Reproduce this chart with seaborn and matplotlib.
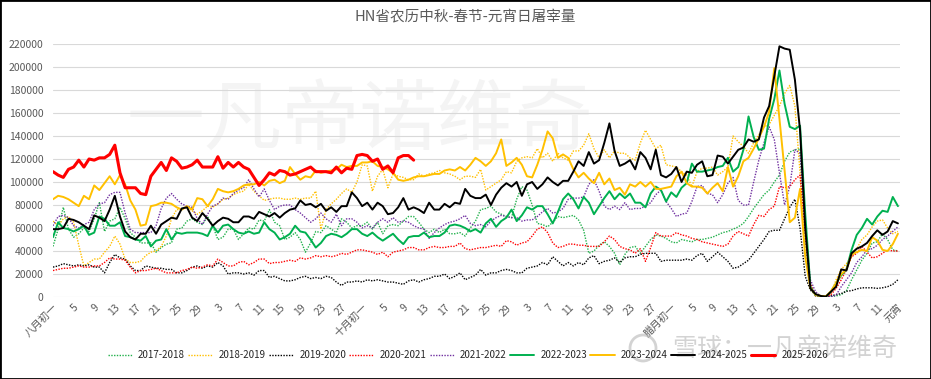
import matplotlib

matplotlib.use("Agg")
import matplotlib.pyplot as plt
import numpy as np
import seaborn as sns
from matplotlib.patches import Rectangle, Ellipse

# daily slaughter volume, in thousand head, one value per lunar day
# (八月初一 ... 元宵); 2025-2026 only runs to 十月十一
s2017 = [44, 59, 78, 59, 52, 55, 60, 57, 68, 82,
         57, 66, 68, 78, 68, 56, 52, 47, 47, 47,
         39, 43, 46, 47, 59, 60, 66, 68, 65, 63,
         70, 62, 50, 52, 59, 59, 50, 55, 60, 59,
         67, 66,
         76, 65, 62, 50, 52, 56, 50, 39, 47, 57,
         56, 62, 59, 56, 68, 65, 60, 62, 62, 65,
         59, 65, 55, 62, 63, 62, 66, 70, 70, 65,
         59, 56, 59, 56, 59, 55, 55, 56,
         53, 60, 66, 76, 77, 79, 74, 72, 70, 69,
         85, 96, 93, 80, 64, 63, 61, 65, 70, 69,
         70, 71, 67, 58, 38, 40, 45, 48, 44, 38,
         28, 37, 43, 44, 38, 44, 50, 54, 53, 51,
         48,
         47, 50, 49, 48, 50, 50, 51, 52, 54, 56,
         57, 59, 61, 64, 70, 77, 83, 89, 93, 100,
         106, 118, 126, 128, 129, 50, 9, 1, 0.3, 0.3,
         0.3, 1, 2, 5.5, 15, 23.5, 32, 38, 47, 48,
         55, 50, 41, 40]

s2018 = [66, 62, 68, 70, 65, 45, 27, 30, 33, 33,
         39, 44, 53, 46, 33, 30, 30, 31, 36, 39,
         40, 44, 53, 68, 76, 76, 78, 75, 72, 75,
         79, 78, 81, 85, 86, 89, 91, 92, 98, 92,
         88, 84,
         85, 86, 86, 85, 85, 86, 85, 86, 86, 92,
         59, 76, 81, 85, 90, 94, 91, 100, 115, 114,
         92, 105, 111, 95, 107, 105, 104, 102, 102, 107,
         105, 107, 108, 110, 108, 107, 105, 102,
         105, 105, 104, 111, 93, 96, 99, 102, 109, 108,
         118, 121, 122, 121, 129, 121, 125, 118, 125, 121,
         119, 127, 127, 132, 142, 129, 121, 128, 121, 127,
         125, 125, 121, 119, 134, 145, 137, 129, 132, 115,
         114,
         113, 109, 106, 96, 109, 112, 112, 113, 106, 109,
         113, 140, 135, 131, 125, 134, 141, 148, 150, 158,
         166, 177, 184, 166, 108, 38, 9, 2, 0.3, 0.3,
         3, 15, 24, 29, 35, 42, 50, 54, 61, 66,
         67, 60, 55, 57]

s2019 = [26, 27, 29, 28, 27, 28, 27, 28, 26, 26,
         21, 30, 37, 34, 33, 27, 23, 23, 27, 26,
         25, 25, 24, 24, 21, 21, 23, 26, 27, 25,
         27, 26, 30, 27, 20, 21, 21, 20, 21, 19,
         23, 23,
         17, 18, 16, 14, 14, 15, 17, 18, 16, 17,
         16, 18, 17, 13, 10, 13, 13, 14, 13, 15,
         14, 15, 14, 13, 13, 12, 11, 14, 15, 13,
         15, 16, 18, 18, 20, 16, 18, 21,
         15, 17, 19, 24, 19, 21, 21, 23, 24, 23,
         21, 21, 25, 26, 27, 30, 28, 35, 31, 27,
         30, 27, 30, 28, 34, 36, 29, 31, 32, 34,
         30, 34, 35, 35, 37, 38, 38, 38, 31, 32,
         32,
         32, 32, 33, 32, 36, 38, 31, 35, 39, 35,
         31, 25, 26, 29, 32, 38, 44, 50, 57, 58,
         58, 68, 78, 85, 60, 18, 6, 2, 0.3, 0.3,
         1, 2, 3, 5, 5.5, 7, 8, 8, 8, 7.5,
         8, 9, 11, 15]

s2020 = [23, 24, 25, 25, 26, 27, 26, 26, 27, 27,
         30, 34, 33, 33, 32, 26, 21, 23, 23, 24,
         25, 23, 21, 21, 21, 23, 24, 26, 25, 26,
         28, 27, 33, 30, 27, 27, 30, 31, 28, 30,
         33, 33,
         29, 30, 30, 31, 32, 31, 34, 33, 34, 36,
         35, 36, 35, 36, 38, 37, 39, 41, 41, 40,
         39, 37, 39, 35, 39, 40, 41, 43, 43, 41,
         41, 43, 44, 43, 43, 44, 44, 47,
         42, 41, 42, 43, 43, 44, 45, 44, 49, 48,
         45, 47, 48, 53, 59, 61, 56, 47, 43, 44,
         46, 46, 45, 45, 44, 44, 44, 48, 53, 50,
         44, 42, 41, 38, 42, 31, 43, 56, 53, 53,
         53,
         56, 54, 53, 51, 50, 48, 47, 46, 45, 44,
         46, 53, 57, 55, 53, 63, 71, 70, 76, 79,
         96, 95, 96, 102, 106, 55, 12, 1, 0.3, 0.3,
         2, 7.5, 15, 24, 35, 38, 44, 39, 34, 35,
         38, 41, 40, 40]

s2021 = [62, 70, 71, 69, 62, 60, 63, 65, 76, 81,
         82, 89, 91, 91, 73, 59, 56, 56, 56, 56,
         62, 77, 86, 90, 85, 81, 79, 78, 68, 63,
         72, 79, 81, 86, 85, 90, 93, 95, 102, 94,
         87, 94,
         84, 76, 79, 80, 80, 76, 73, 69, 65, 68,
         73, 68, 65, 72, 62, 68, 68, 65, 60, 62,
         60, 65, 68, 65, 69, 65, 66, 65, 62, 60,
         59, 51, 56, 60, 63, 65, 66, 68,
         71, 64, 62, 63, 61, 66, 69, 71, 70, 69,
         69, 66, 67, 67, 70, 74, 77, 73, 74, 77,
         85, 86, 86, 87, 98, 102, 92, 79, 76, 79,
         76, 82, 76, 77, 77, 79, 82, 89, 93, 83,
         77,
         70, 72, 73, 83, 96, 97, 90, 89, 82, 89,
         99, 104, 84, 80, 80, 100, 119, 134, 148, 137,
         108, 80, 96, 128, 125, 61, 15, 4.6, 0.9, 0.3,
         0.3, 1.7, 9, 15, 21, 30, 35, 41, 42, 45,
         50, 53, 57, 61]

s2022 = [52, 65, 60, 59, 57, 59, 62, 54, 56, 70,
         68, 62, 62, 65, 53, 52, 50, 49, 53, 44,
         49, 50, 59, 50, 56, 55, 56, 56, 56, 55,
         53, 62, 56, 62, 63, 59, 56, 55, 57, 55,
         56, 65,
         59, 56, 50, 52, 55, 62, 57, 56, 50, 43,
         47, 53, 55, 54, 52, 55, 59, 59, 55, 53,
         56, 52, 49, 52, 55, 50, 46, 52, 53, 53,
         56, 52, 53, 53, 56, 62, 63, 62,
         60, 57, 59, 56, 64, 68, 61, 66, 69, 76,
         66, 71, 78, 76, 79, 79, 72, 64, 74, 85,
         90, 85, 77, 87, 82, 72, 79, 86, 92, 85,
         90, 86, 90, 82, 82, 78, 90, 96, 93, 83,
         91,
         87, 95, 99, 116, 109, 109, 110, 111, 113, 114,
         121, 109, 113, 128, 157, 139, 128, 129, 155, 172,
         197, 168, 148, 146, 149, 73, 9, 1.7, 0.9, 0.3,
         4.6, 12, 19, 24, 41, 54, 60, 68, 63, 70,
         75, 74, 87, 79]

s2023 = [85, 88, 87, 85, 82, 79, 88, 85, 97, 93,
         99, 105, 98, 106, 98, 84, 76, 62, 63, 79,
         80, 82, 82, 81, 78, 76, 79, 76, 86, 85,
         79, 85, 94, 92, 91, 92, 94, 97, 98, 98,
         100, 97,
         101, 102, 99, 101, 113, 107, 102, 105, 104, 110,
         108, 109, 110, 111, 115, 113, 114, 114, 117, 117,
         118, 114, 113, 111, 108, 102, 101, 102, 104, 105,
         105, 106, 107, 107, 110, 111, 110, 113,
         110, 115, 121, 118, 114, 118, 125, 137, 114, 117,
         121, 115, 105, 104, 115, 128, 144, 138, 121, 124,
         121, 111, 104, 108, 103, 99, 108, 98, 103, 93,
         95, 89, 98, 96, 100, 96, 100, 94, 94, 95,
         96,
         105, 109, 99, 96, 96, 95, 90, 95, 99, 92,
         113, 96, 105, 118, 121, 129, 138, 148, 161, 199,
         155, 110, 65, 69, 94, 35, 8, 2, 1, 0.5,
         5, 12, 20, 24, 37, 39, 41, 40, 52, 49,
         41, 40, 46, 55]

s2024 = [59, 59, 60, 68, 67, 65, 62, 59, 71, 69,
         66, 76, 88, 70, 57, 52, 50, 55, 55, 62,
         55, 63, 66, 69, 68, 77, 78, 69, 66, 73,
         68, 62, 66, 69, 68, 65, 65, 70, 70, 68,
         74, 72,
         70, 73, 69, 73, 76, 77, 84, 80, 81, 78,
         81, 75, 78, 74, 79, 79, 91, 86, 79, 82,
         76, 82, 79, 72, 73, 78, 86, 76, 78, 76,
         73, 82, 76, 76, 81, 78, 82, 81,
         94, 88, 86, 86, 89, 80, 89, 95, 99, 96,
         100, 88, 98, 100, 94, 98, 104, 100, 97, 101,
         101, 109, 118, 114, 126, 116, 119, 134, 151, 127,
         114, 116, 119, 111, 126, 121, 111, 128, 106, 104,
         107,
         113, 100, 109, 108, 115, 118, 105, 106, 123, 122,
         116, 122, 128, 130, 137, 135, 137, 156, 166, 192,
         218, 216, 215, 189, 145, 61, 7.5, 2.6, 0.9, 0.3,
         4.6, 9, 24, 23, 38, 42, 44, 47, 53, 58,
         54, 57, 66, 64]

s2025 = [109, 106, 104, 111, 113, 119, 113, 120, 119, 121,
         121, 124, 132, 108, 95, 95, 95, 90, 89, 105,
         111, 117, 110, 121, 118, 112, 113, 115, 119, 113,
         113, 113, 122, 112, 117, 113, 117, 113, 111, 104,
         97, 102,
         108, 106, 110, 109, 106, 107, 109, 111, 113, 109,
         109, 109, 108, 113, 108, 112, 111, 123, 124, 123,
         118, 120, 111, 114, 108, 121, 123, 123, 119]

SEASONS = ["2017-2018", "2018-2019", "2019-2020", "2020-2021", "2021-2022",
           "2022-2023", "2023-2024", "2024-2025", "2025-2026"]
SERIES = [s2017, s2018, s2019, s2020, s2021, s2022, s2023, s2024, s2025]

TICK_LABELS = ["八月初一", "5", "9", "13", "17", "21", "25", "29", "3", "7",
               "11", "15", "19", "23", "27",
               "十月初一", "5", "9", "13", "17", "21", "25", "29", "3", "7",
               "11", "15", "19", "23", "27",
               "腊月初一", "5", "9", "13", "17", "21", "25", "29", "3", "7",
               "11", "元宵"]

DOT = (0, (1, 1))
STYLE = {
    "2017-2018": ("#22B14C", DOT, 1.0),
    "2018-2019": ("#FFC000", DOT, 1.0),
    "2019-2020": ("#000000", DOT, 1.0),
    "2020-2021": ("#FF0000", DOT, 1.0),
    "2021-2022": ("#7030A0", DOT, 1.0),
    "2022-2023": ("#00B050", "-", 1.4),
    "2023-2024": ("#FFC000", "-", 1.4),
    "2024-2025": ("#000000", "-", 1.4),
    "2025-2026": ("#FF0000", "-", 2.2),
}

for s in SERIES[:-1]:
    assert len(s) == 165, len(s)
assert len(s2025) == 71, len(s2025)

sns.set_style("white")
plt.rcParams["font.family"] = ["Noto Sans CJK SC", "DejaVu Sans"]
GREY = "#595959"

W, H = 931, 379
fig = plt.figure(figsize=(W / 100, H / 100), dpi=100)
ax = fig.add_axes([53 / W, 1 - 297 / H, 847 / W, 253 / H])
ax.set_facecolor("none")

# faint watermark behind the lines
ax.text(0.362, 0.69, "一凡帝诺维奇", transform=ax.transAxes, fontsize=56,
        color="#F4F4F4", ha="center", va="center", zorder=0.5)

handles = []
for name, vals in zip(SEASONS, SERIES):
    color, ls, lw = STYLE[name]
    sns.lineplot(x=np.arange(len(vals)), y=np.array(vals) * 1000, ax=ax,
                 color=color, linestyle=ls, linewidth=lw, legend=False)
    handles.append(ax.get_lines()[-1])

ax.set_xlim(0, 164.4)
ax.set_ylim(0, 220000)
ax.set_yticks(range(0, 220001, 20000))
ax.set_yticklabels([str(v) for v in range(0, 220001, 20000)],
                   fontsize=7.5, color=GREY)
ax.set_xticks(range(0, 165, 4))
ax.set_xticklabels(TICK_LABELS, rotation=45, ha="right",
                   rotation_mode="anchor", fontsize=7.5, color=GREY)
ax.tick_params(axis="x", length=0, pad=4)
ax.tick_params(axis="y", length=0, pad=7)
ax.set_xlabel("")
ax.set_ylabel("")
ax.yaxis.grid(True, color="#D9D9D9", linewidth=0.8)
ax.xaxis.grid(False)
ax.set_axisbelow(True)
for sp in ax.spines.values():
    sp.set_visible(False)

fig.text(465 / W, 1 - 17 / H, "HN省农历中秋-春节-元宵日屠宰量",
         ha="center", va="center", fontsize=10.5, color=GREY)

fig.legend(handles, SEASONS, loc="center", ncol=9, frameon=False,
           bbox_to_anchor=(468 / W, 1 - 355 / H), fontsize=7,
           handlelength=2.5, handletextpad=0.6, columnspacing=0.35)

# source stamp in the bottom-right corner (sits over the legend, as in the source)
fig.text(785 / W, 1 - 349 / H, "雪球：一凡帝诺维奇", ha="center", va="center",
         fontsize=18, color="#A8A8A8", alpha=0.5)
fig.add_artist(Ellipse((643 / W, 1 - 348 / H), 26 / W, 26 / H,
                       transform=fig.transFigure, fill=False,
                       edgecolor="#A8A8A8", alpha=0.5, linewidth=2))

fig.add_artist(Rectangle((0, 0), 1, 1, transform=fig.transFigure,
                         fill=False, edgecolor="black", linewidth=2))

fig.savefig("out.png", dpi=100)
plt.close(fig)
